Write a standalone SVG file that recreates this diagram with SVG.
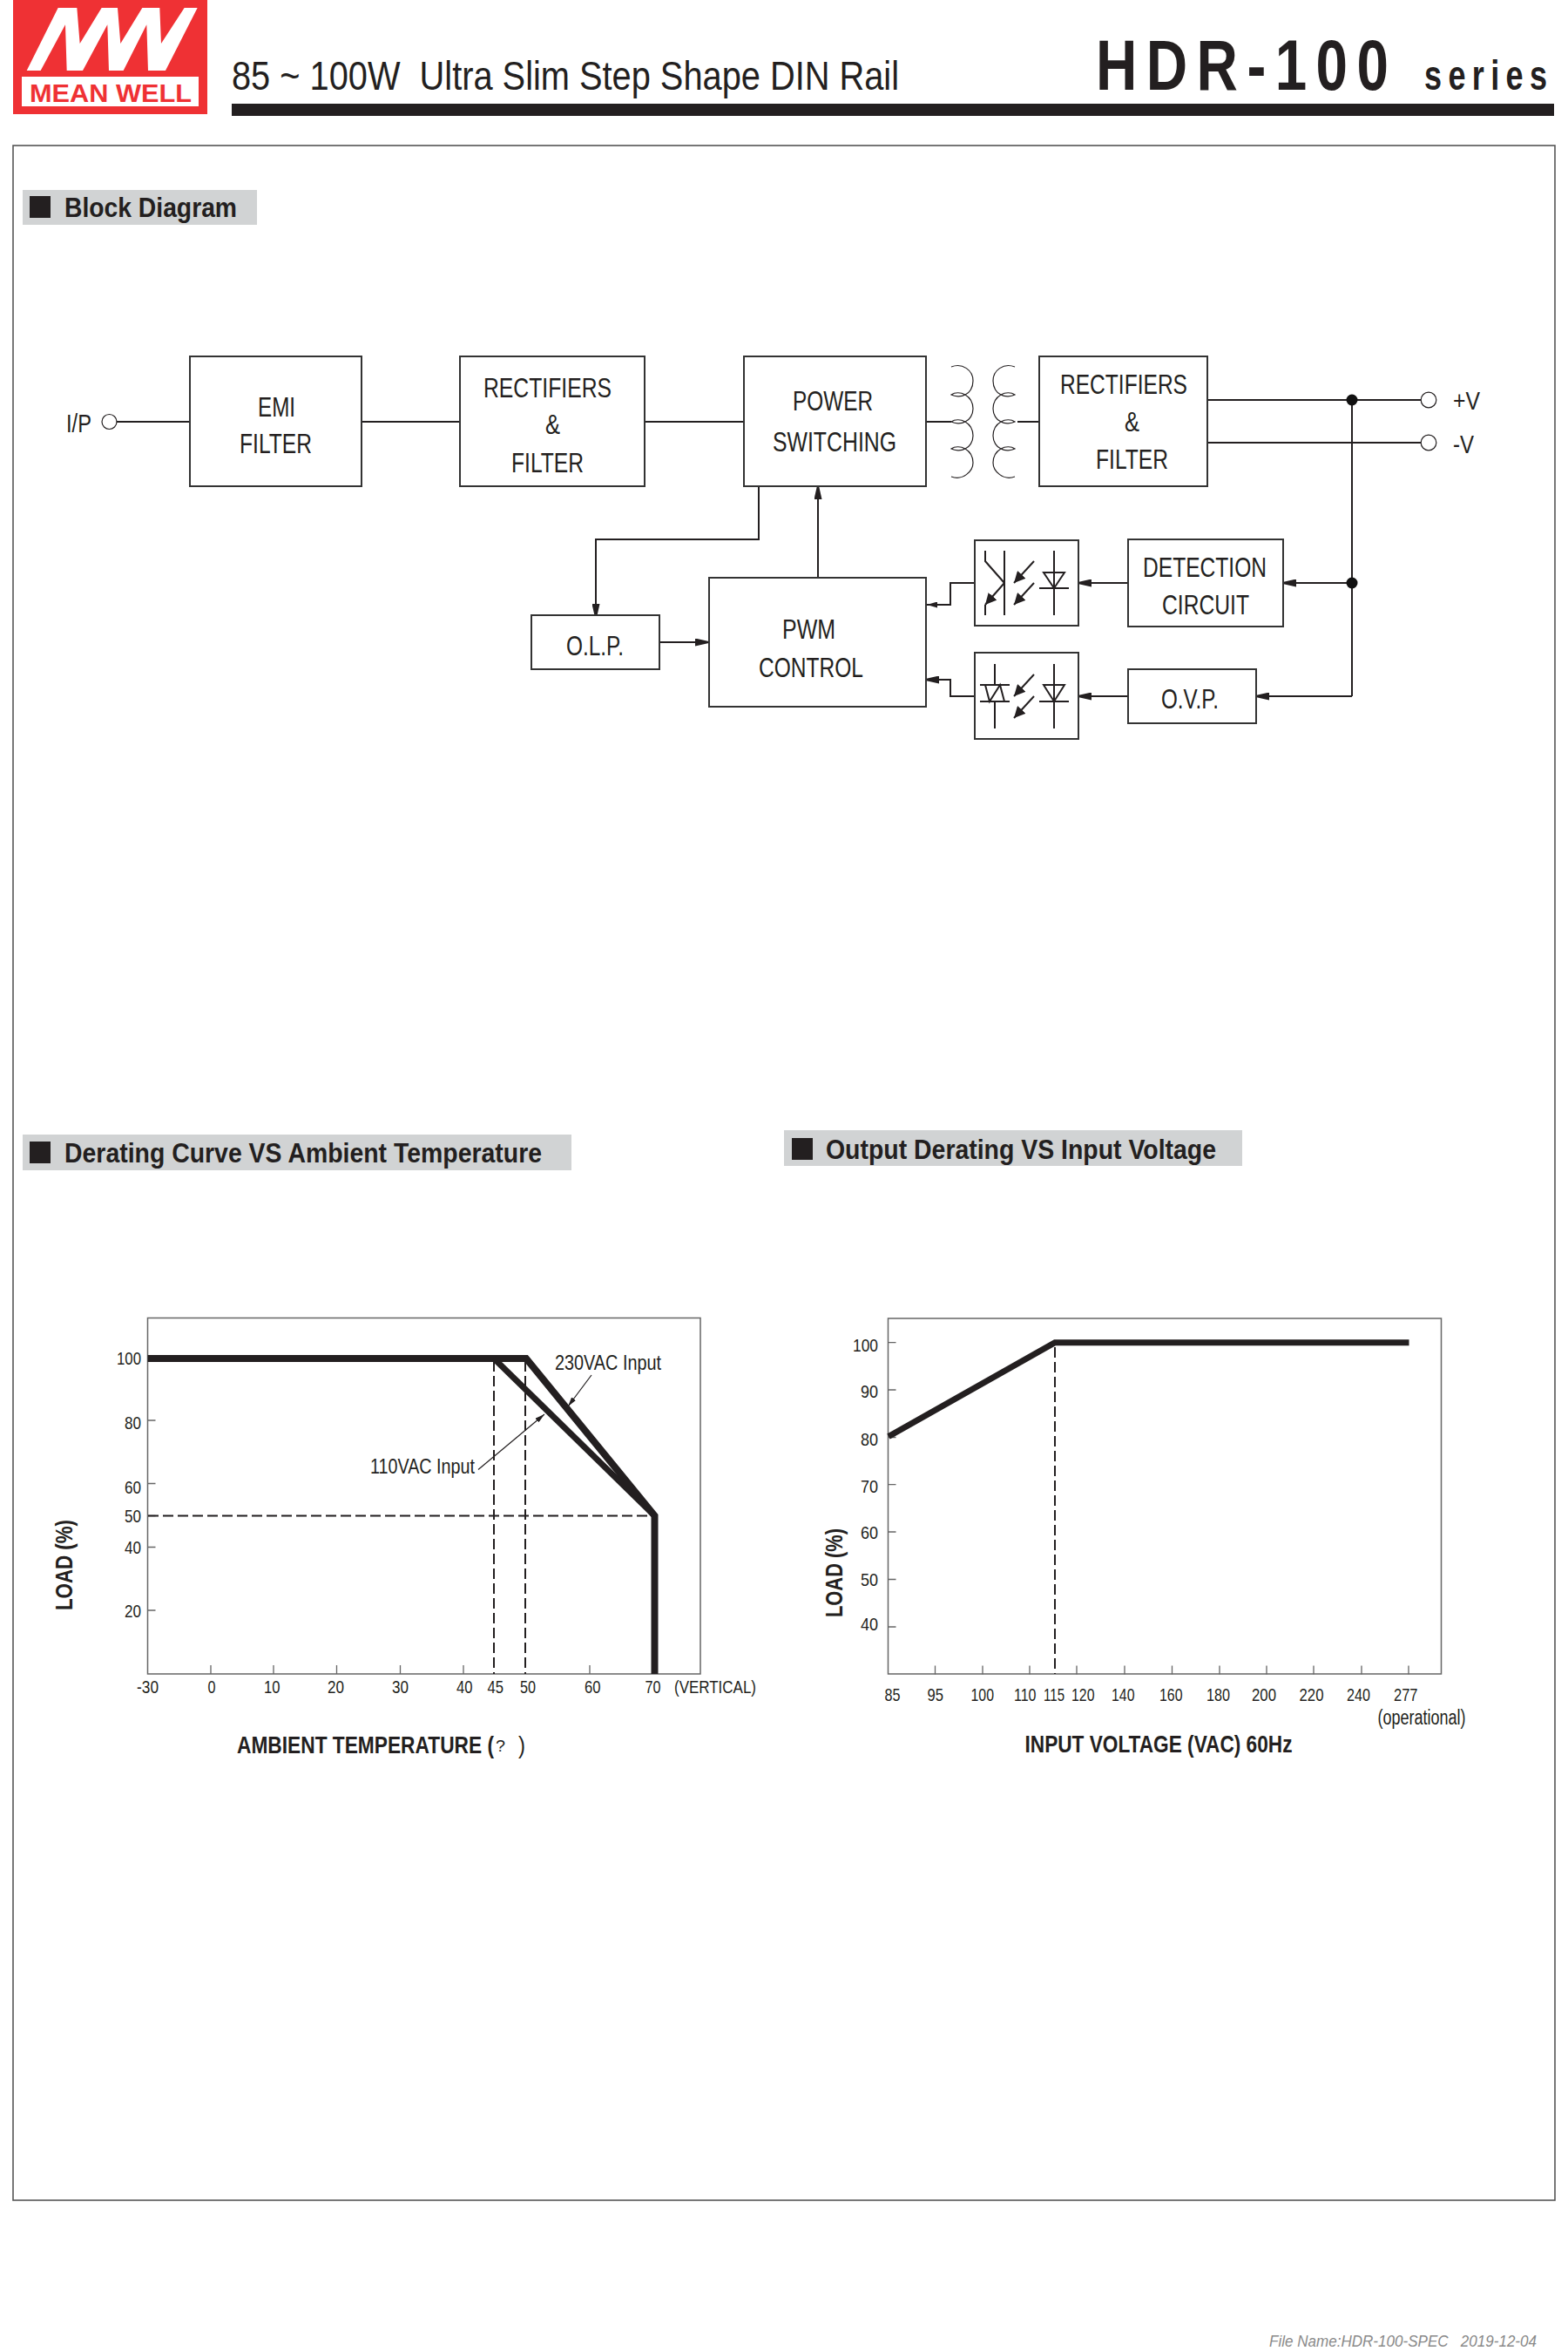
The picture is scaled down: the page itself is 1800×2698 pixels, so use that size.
<svg xmlns="http://www.w3.org/2000/svg" width="1800" height="2698" viewBox="0 0 1800 2698">
<style>
text{font-family:"Liberation Sans",Arial,sans-serif;fill:#231f20}
.b{fill:#fff;stroke:#333;stroke-width:2}
.l{fill:none;stroke:#231f20;stroke-width:2}
.t{fill:none;stroke:#231f20;stroke-width:1.2}
.n{font-size:32px}
.s{font-size:21px}
.h{font-size:32px;font-weight:bold}
.a{font-size:27px;font-weight:bold}
.d{fill:none;stroke:#231f20;stroke-width:2;stroke-dasharray:12 5}
.k{fill:none;stroke:#231f20;stroke-linejoin:miter}
.g{fill:#fff;stroke:#666;stroke-width:1.5}
.m{stroke:#666;stroke-width:1.3;fill:none}
.ban{fill:#d1d3d4}
</style>
<defs>
<marker id="ab" markerUnits="userSpaceOnUse" viewBox="0 0 20 9" refX="20" refY="4.5" markerWidth="20" markerHeight="9" orient="auto"><path d="M0 0L20 4.5L0 9z" fill="#231f20"/></marker>
<marker id="as" markerUnits="userSpaceOnUse" viewBox="0 0 12 7" refX="12" refY="3.5" markerWidth="12" markerHeight="7" orient="auto"><path d="M0 0L12 3.5L0 7z" fill="#231f20"/></marker>
<marker id="ao" markerUnits="userSpaceOnUse" viewBox="0 0 13 13" refX="13" refY="6.5" markerWidth="13" markerHeight="13" orient="auto"><path d="M0 0L13 6.5L0 13z" fill="#231f20"/></marker>
<marker id="at" markerUnits="userSpaceOnUse" viewBox="0 0 11 6" refX="11" refY="3" markerWidth="11" markerHeight="6" orient="auto"><path d="M0 0L11 3L0 6z" fill="#231f20"/></marker>
<path id="coil" class="t" d="M1092 421C1105 416 1117 425 1117 437C1117 445 1113 451 1108 453C1103 456 1096 455 1092 453C1096 450 1103 450 1108 453C1113 456 1117 461 1117 469C1117 476 1113 482 1108 484C1103 487 1096 486 1092 484C1096 481 1103 481 1108 484C1113 487 1117 492 1117 500C1117 507 1113 513 1108 515C1103 518 1096 517 1092 515C1096 512 1103 512 1108 515C1113 518 1117 523 1117 531C1117 541 1105 552 1092 547" stroke-width="1.5"/>
</defs>
<rect width="1800" height="2698" fill="#fff"/>

<g id="logo">
<rect x="15" y="0" width="223" height="131" fill="#ef3134"/>
<polygon fill="#fff" transform="translate(20 0) scale(.3333)" points="32,243 140,27 205,27 215,150 290,27 345,27 355,150 430,27 490,27 495,150 575,27 620,27 510,243 450,243 445,85 365,243 315,243 310,85 225,243 170,243 165,85 80,243"/>
<rect x="25" y="88" width="203" height="34" fill="#fff"/>
<text x="34" y="117" font-size="29" font-weight="bold" textLength="186" lengthAdjust="spacingAndGlyphs" style="fill:#ef3134">MEAN WELL</text>
</g>
<g id="header">
<text x="266" y="103" font-size="47" textLength="766" lengthAdjust="spacingAndGlyphs" xml:space="preserve">85 ~ 100W  Ultra Slim Step Shape DIN Rail</text>
<rect x="266" y="119" width="1518" height="14" fill="#231f20"/>
<text transform="translate(1258 103) scale(.8 1)" font-size="82" font-weight="bold" textLength="420">HDR-100</text>
<text transform="translate(1635 103) scale(.75 1)" font-size="48" font-weight="bold" textLength="188">series</text>
</g>
<rect id="frame" x="15" y="167" width="1770" height="2358" fill="none" stroke="#555" stroke-width="1.6"/>

<g id="section-block">
<rect class="ban" x="26" y="218" width="269" height="40"/>
<rect x="34" y="225" width="24" height="25" fill="#231f20"/>
<text class="h" x="74" y="249" textLength="198" lengthAdjust="spacingAndGlyphs">Block Diagram</text>
</g>
<g id="section-derating">
<rect class="ban" x="26" y="1302" width="630" height="41"/>
<rect x="34" y="1310" width="24" height="25" fill="#231f20"/>
<text class="h" x="74" y="1334" textLength="548" lengthAdjust="spacingAndGlyphs">Derating Curve VS Ambient Temperature</text>
</g>
<g id="section-output">
<rect class="ban" x="900" y="1297" width="526" height="41"/>
<rect x="909" y="1306" width="24" height="25" fill="#231f20"/>
<text class="h" x="948" y="1330" textLength="448" lengthAdjust="spacingAndGlyphs">Output Derating VS Input Voltage</text>
</g>

<g id="connectors">
<path class="l" d="M134 484H218M415 484H528M740 484H854M1063 484H1092M1168 484H1193"/>
<path class="l" d="M1386 459H1631M1386 508H1631M1552 459V799"/>
<path class="l" d="M871 558V619H684V713" marker-end="url(#ab)"/>
<path class="l" d="M939 663V553" marker-end="url(#ab)"/>
<path class="l" d="M757 737H818" marker-end="url(#ab)"/>
<path class="l" d="M1552 669H1468" marker-end="url(#ab)"/>
<path class="l" d="M1552 799H1437" marker-end="url(#ab)"/>
<path class="l" d="M1295 669H1233" marker-end="url(#ab)"/>
<path class="l" d="M1295 799H1233" marker-end="url(#ab)"/>
<path class="l" d="M1119 669H1091V694H1064" marker-end="url(#as)"/>
<path class="l" d="M1119 799H1091V780H1058" marker-end="url(#ab)"/>
<circle cx="1552" cy="459" r="6.5" fill="#111"/>
<circle cx="1552" cy="669" r="6.5" fill="#111"/>
</g>

<g id="node-ip">
<text x="76" y="496" font-size="30" textLength="29" lengthAdjust="spacingAndGlyphs">I/P</text>
<circle class="t" cx="125.500" cy="484" r="8.500" style="fill:#fff"/>
</g>
<g id="node-emi">
<rect class="b" x="218" y="409" width="197" height="149"/>
<text class="n" x="296" y="478" textLength="43" lengthAdjust="spacingAndGlyphs">EMI</text>
<text class="n" x="275" y="520" textLength="83" lengthAdjust="spacingAndGlyphs">FILTER</text>
</g>
<g id="node-rect1">
<rect class="b" x="528" y="409" width="212" height="149"/>
<text class="n" x="555" y="456" textLength="147" lengthAdjust="spacingAndGlyphs">RECTIFIERS</text>
<text class="n" x="626" y="498" textLength="17" lengthAdjust="spacingAndGlyphs">&amp;</text>
<text class="n" x="587" y="542" textLength="83" lengthAdjust="spacingAndGlyphs">FILTER</text>
</g>
<g id="node-power">
<rect class="b" x="854" y="409" width="209" height="149"/>
<text class="n" x="910" y="471" textLength="92" lengthAdjust="spacingAndGlyphs">POWER</text>
<text class="n" x="887" y="518" textLength="142" lengthAdjust="spacingAndGlyphs">SWITCHING</text>
</g>
<g id="node-transformer">
<use href="#coil"/>
<use href="#coil" transform="translate(2257 0) scale(-1 1)"/>
</g>
<g id="node-rect2">
<rect class="b" x="1193" y="409" width="193" height="149"/>
<text class="n" x="1217" y="452" textLength="146" lengthAdjust="spacingAndGlyphs">RECTIFIERS</text>
<text class="n" x="1291" y="495" textLength="17" lengthAdjust="spacingAndGlyphs">&amp;</text>
<text class="n" x="1258" y="538" textLength="83" lengthAdjust="spacingAndGlyphs">FILTER</text>
</g>
<g id="node-outputs">
<circle class="t" cx="1640" cy="459" r="8.800" style="fill:#fff"/>
<circle class="t" cx="1640" cy="508" r="8.800" style="fill:#fff"/>
<text x="1668" y="470" font-size="30" textLength="31" lengthAdjust="spacingAndGlyphs">+V</text>
<text x="1668" y="520" font-size="30" textLength="24" lengthAdjust="spacingAndGlyphs">-V</text>
</g>
<g id="node-olp">
<rect class="b" x="610" y="706" width="147" height="62"/>
<text class="n" x="650" y="752" textLength="66" lengthAdjust="spacingAndGlyphs">O.L.P.</text>
</g>
<g id="node-pwm">
<rect class="b" x="814" y="663" width="249" height="148"/>
<text class="n" x="898" y="733" textLength="61" lengthAdjust="spacingAndGlyphs">PWM</text>
<text class="n" x="871" y="777" textLength="120" lengthAdjust="spacingAndGlyphs">CONTROL</text>
</g>
<g id="node-opto1">
<rect class="b" x="1119" y="620" width="119" height="98"/>
<path class="l" d="M1210 632V706M1198 657H1222L1210 675ZM1193 675H1227M1153 632V706M1131 632V644L1153 669"/>
<path class="l" d="M1153 669L1131 694" marker-end="url(#ao)"/>
<path class="l" d="M1131 694V706"/>
<path class="l" d="M1187 644L1164 669" marker-end="url(#ao)"/>
<path class="l" d="M1187 669L1164 694" marker-end="url(#ao)"/>
</g>
<g id="node-opto2">
<rect class="b" x="1119" y="749" width="119" height="99"/>
<path class="l" d="M1210 762V836M1198 786H1222L1210 805ZM1193 805H1227M1142 762V786M1142 805V836M1125 786H1159M1125 805H1159M1131 786L1136 805L1148 786L1153 805"/>
<path class="l" d="M1187 774L1164 799" marker-end="url(#ao)"/>
<path class="l" d="M1187 799L1164 824" marker-end="url(#ao)"/>
</g>
<g id="node-detection">
<rect class="b" x="1295" y="619" width="178" height="100"/>
<text class="n" x="1312" y="662" textLength="142" lengthAdjust="spacingAndGlyphs">DETECTION</text>
<text class="n" x="1334" y="705" textLength="100" lengthAdjust="spacingAndGlyphs">CIRCUIT</text>
</g>
<g id="node-ovp">
<rect class="b" x="1295" y="768" width="147" height="62"/>
<text class="n" x="1333" y="813" textLength="66" lengthAdjust="spacingAndGlyphs">O.V.P.</text>
</g>

<g id="chart-derating">
<rect class="g" x="169.500" y="1512.500" width="634.500" height="408.500"/>
<path class="m" d="M169.500 1559h9M169.500 1630h9M169.500 1702.500h9M169.500 1739.500h9M169.500 1775.500h9M169.500 1848h9M242 1911v10M314 1911v10M386.500 1911v10M459.500 1911v10M532 1911v10M677 1911v10"/>
<path class="d" d="M567 1562V1921M603 1562V1921M170 1739.500H751"/>
<path class="k" stroke-width="8" d="M169.500 1559H604L751.500 1739.500V1921"/>
<path class="k" stroke-width="7" d="M567 1559L751.500 1739.500"/>
<path class="t" d="M679 1578L652 1614" marker-end="url(#at)"/>
<path class="t" d="M549 1686.500L625 1623" marker-end="url(#at)"/>
<text class="s" x="134" y="1566" textLength="28" lengthAdjust="spacingAndGlyphs">100</text>
<text class="s" x="143" y="1640" textLength="19" lengthAdjust="spacingAndGlyphs">80</text>
<text class="s" x="143" y="1714" textLength="19" lengthAdjust="spacingAndGlyphs">60</text>
<text class="s" x="143" y="1747" textLength="19" lengthAdjust="spacingAndGlyphs">50</text>
<text class="s" x="143" y="1783" textLength="19" lengthAdjust="spacingAndGlyphs">40</text>
<text class="s" x="143" y="1856" textLength="19" lengthAdjust="spacingAndGlyphs">20</text>
<text class="s" x="157" y="1943" textLength="25" lengthAdjust="spacingAndGlyphs">-30</text>
<text class="s" x="238.500" y="1943" textLength="9" lengthAdjust="spacingAndGlyphs">0</text>
<text class="s" x="303" y="1943" textLength="18.500" lengthAdjust="spacingAndGlyphs">10</text>
<text class="s" x="376" y="1943" textLength="19" lengthAdjust="spacingAndGlyphs">20</text>
<text class="s" x="450" y="1943" textLength="19" lengthAdjust="spacingAndGlyphs">30</text>
<text class="s" x="524" y="1943" textLength="18.500" lengthAdjust="spacingAndGlyphs">40</text>
<text class="s" x="559.500" y="1943" textLength="18.500" lengthAdjust="spacingAndGlyphs">45</text>
<text class="s" x="597" y="1943" textLength="18" lengthAdjust="spacingAndGlyphs">50</text>
<text class="s" x="671" y="1943" textLength="18.500" lengthAdjust="spacingAndGlyphs">60</text>
<text class="s" x="740.500" y="1943" textLength="18" lengthAdjust="spacingAndGlyphs">70</text>
<text class="s" x="774" y="1943" textLength="94" lengthAdjust="spacingAndGlyphs">(VERTICAL)</text>
<text x="637" y="1572" font-size="23" textLength="122" lengthAdjust="spacingAndGlyphs">230VAC Input</text>
<text x="425" y="1691" font-size="23" textLength="120" lengthAdjust="spacingAndGlyphs">110VAC Input</text>
<text class="a" transform="translate(83 1848) rotate(-90)" textLength="104" lengthAdjust="spacingAndGlyphs">LOAD (%)</text>
<text class="a" x="272" y="2012" textLength="295" lengthAdjust="spacingAndGlyphs">AMBIENT TEMPERATURE (</text>
<text x="569" y="2010" font-size="18" textLength="11" lengthAdjust="spacingAndGlyphs">?</text>
<text x="595" y="2012" font-size="27" textLength="8" lengthAdjust="spacingAndGlyphs">)</text>
</g>

<g id="chart-output">
<rect class="g" x="1019.500" y="1513" width="635" height="408"/>
<path class="m" d="M1019.500 1540.700h9M1019.500 1595h9M1019.500 1649.500h9M1019.500 1703.700h9M1019.500 1758h9M1019.500 1812.500h9M1019.500 1867h9M1073.500 1911.500v10M1128 1911.500v10M1182 1911.500v10M1236 1911.500v10M1291 1911.500v10M1345.500 1911.500v10M1400 1911.500v10M1454 1911.500v10M1508 1911.500v10M1563 1911.500v10M1617 1911.500v10"/>
<path class="d" d="M1211 1546V1921"/>
<path class="k" stroke-width="7" d="M1020 1648.500L1211 1540.700H1617.500"/>
<text class="s" x="979" y="1551" textLength="29" lengthAdjust="spacingAndGlyphs">100</text>
<text class="s" x="988" y="1604" textLength="20" lengthAdjust="spacingAndGlyphs">90</text>
<text class="s" x="988" y="1659" textLength="20" lengthAdjust="spacingAndGlyphs">80</text>
<text class="s" x="988" y="1713" textLength="20" lengthAdjust="spacingAndGlyphs">70</text>
<text class="s" x="988" y="1766" textLength="20" lengthAdjust="spacingAndGlyphs">60</text>
<text class="s" x="988" y="1820" textLength="20" lengthAdjust="spacingAndGlyphs">50</text>
<text class="s" x="988" y="1871" textLength="20" lengthAdjust="spacingAndGlyphs">40</text>
<text class="s" x="1015.500" y="1951.500" textLength="18" lengthAdjust="spacingAndGlyphs">85</text>
<text class="s" x="1064.500" y="1951.500" textLength="18.500" lengthAdjust="spacingAndGlyphs">95</text>
<text class="s" x="1114.500" y="1951.500" textLength="26.500" lengthAdjust="spacingAndGlyphs">100</text>
<text class="s" x="1164" y="1951.500" textLength="25.500" lengthAdjust="spacingAndGlyphs">110</text>
<text class="s" x="1198" y="1951.500" textLength="24" lengthAdjust="spacingAndGlyphs">115</text>
<text class="s" x="1230" y="1951.500" textLength="26.500" lengthAdjust="spacingAndGlyphs">120</text>
<text class="s" x="1276" y="1951.500" textLength="26.500" lengthAdjust="spacingAndGlyphs">140</text>
<text class="s" x="1331" y="1951.500" textLength="26.500" lengthAdjust="spacingAndGlyphs">160</text>
<text class="s" x="1385" y="1951.500" textLength="27" lengthAdjust="spacingAndGlyphs">180</text>
<text class="s" x="1437" y="1951.500" textLength="28" lengthAdjust="spacingAndGlyphs">200</text>
<text class="s" x="1491.500" y="1951.500" textLength="28" lengthAdjust="spacingAndGlyphs">220</text>
<text class="s" x="1546" y="1951.500" textLength="27" lengthAdjust="spacingAndGlyphs">240</text>
<text class="s" x="1600" y="1951.500" textLength="27.500" lengthAdjust="spacingAndGlyphs">277</text>
<text x="1581.500" y="1979" style="font-size:23px" textLength="101" lengthAdjust="spacingAndGlyphs">(operational)</text>
<text class="a" transform="translate(967 1856) rotate(-90)" textLength="102" lengthAdjust="spacingAndGlyphs">LOAD (%)</text>
<text class="a" x="1176.500" y="2011" textLength="307" lengthAdjust="spacingAndGlyphs">INPUT VOLTAGE (VAC) 60Hz</text>
</g>

<text id="footer" x="1457" y="2693" font-size="19" font-style="italic" textLength="307" lengthAdjust="spacingAndGlyphs" xml:space="preserve" style="fill:#8a8a8a">File Name:HDR-100-SPEC   2019-12-04</text>
</svg>
